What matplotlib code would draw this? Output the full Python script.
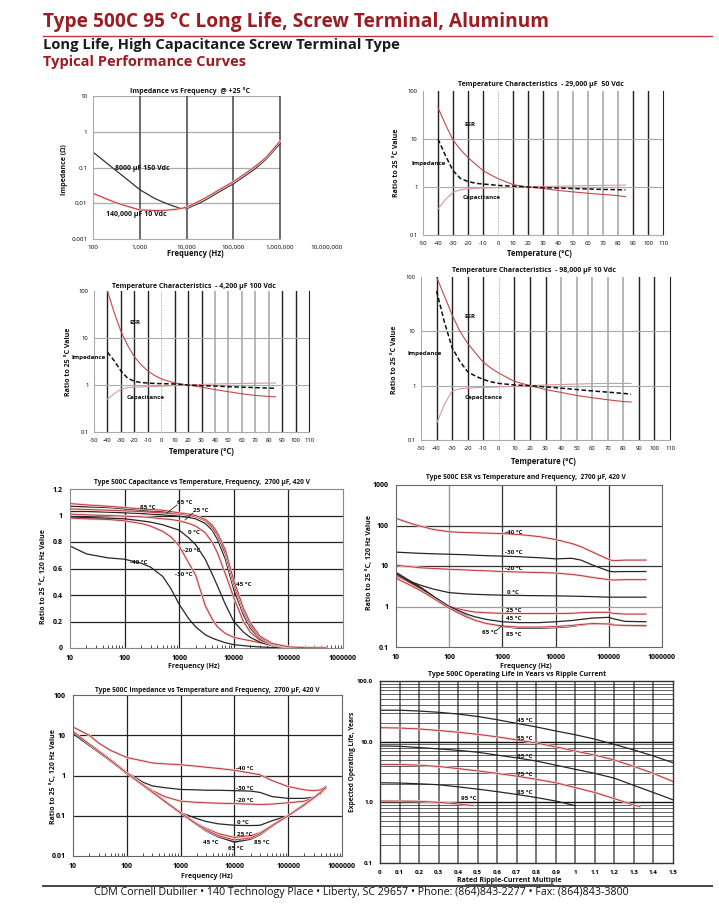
import matplotlib
matplotlib.use("Agg")
import matplotlib.pyplot as plt
from matplotlib.lines import Line2D
from matplotlib.ticker import NullLocator

plt.rcParams['font.family'] = ['Open Sans', 'DejaVu Sans']

# ---------------- data ----------------
# Impedance vs frequency @ +25 C
freq1 = [100, 200, 300, 500, 1000, 2000, 3000, 5000, 7000, 10000, 20000, 30000,
         50000, 100000, 200000, 300000, 500000, 1000000]
z_8000uF = [0.27, 0.13, 0.085, 0.05, 0.024, 0.014, 0.011, 0.0085, 0.0074, 0.007, 0.0105,
            0.014, 0.021, 0.035, 0.065, 0.095, 0.17, 0.47]
z_140000uF = [0.019, 0.013, 0.0105, 0.0085, 0.0065, 0.0063, 0.0063, 0.0066, 0.007, 0.0077,
              0.012, 0.016, 0.024, 0.04, 0.075, 0.11, 0.19, 0.55]
freq1_ticks = [100, 1000, 10000, 100000, 1000000]
freq1_labels = ['100', '1,000', '10,000', '100,000', '1,000,000']

# Temperature characteristics (ratio to 25 C value)
temps = [-40, -35, -30, -25, -20, -15, -10, -5, 0, 10, 20, 30, 40, 50, 60, 70, 80, 85]
esr_29k = [45, 20, 9.5, 6, 4.1, 3, 2.2, 1.8, 1.5, 1.12, 1.0, 0.93, 0.85, 0.79, 0.74, 0.7, 0.66, 0.63]
imp_29k = [10, 4.5, 2.2, 1.5, 1.3, 1.2, 1.15, 1.12, 1.08, 1.04, 1.0, 0.97, 0.95, 0.93, 0.91, 0.89, 0.88, 0.87]
cap_29k = [0.35, 0.55, 0.78, 0.88, 0.92, 0.94, 0.95, 0.96, 0.97, 0.98, 1.0, 1.02, 1.04, 1.05, 1.07, 1.08, 1.09, 1.1]

esr_4k2 = [100, 35, 14, 7, 4, 2.7, 2.0, 1.6, 1.35, 1.1, 1.0, 0.9, 0.8, 0.72, 0.65, 0.6, 0.57, 0.56]
imp_4k2 = [5, 3.3, 2.0, 1.4, 1.2, 1.13, 1.1, 1.08, 1.07, 1.05, 1.0, 0.97, 0.95, 0.92, 0.9, 0.88, 0.86, 0.85]
cap_4k2 = [0.5, 0.65, 0.82, 0.88, 0.9, 0.91, 0.92, 0.93, 0.94, 0.97, 1.0, 1.03, 1.05, 1.07, 1.08, 1.09, 1.1, 1.1]

esr_98k = [100, 45, 20, 10, 6, 4, 2.7, 2.1, 1.7, 1.2, 1.0, 0.85, 0.75, 0.66, 0.6, 0.55, 0.51, 0.5]
imp_98k = [55, 15, 5, 2.8, 1.8, 1.5, 1.3, 1.18, 1.1, 1.03, 1.0, 0.95, 0.9, 0.85, 0.8, 0.76, 0.72, 0.7]
cap_98k = [0.2, 0.45, 0.8, 0.88, 0.9, 0.92, 0.93, 0.94, 0.95, 0.97, 1.0, 1.03, 1.05, 1.07, 1.09, 1.1, 1.1, 1.1]

temp_ticks = list(range(-50, 111, 10))

# Capacitance vs temperature and frequency, 2700 uF 420 V
freq5 = [10, 20, 50, 100, 200, 300, 500, 700, 1000, 1500, 2000, 3000, 4000, 5000, 7000,
         10000, 15000, 20000, 30000, 50000, 100000, 200000, 500000]
cap_m40 = [0.77, 0.71, 0.68, 0.67, 0.64, 0.61, 0.54, 0.45, 0.33, 0.22, 0.16, 0.1, 0.075, 0.06,
           0.04, 0.025, 0.018, 0.013, 0.008, 0.004, 0.002, 0.001, 0.0]
cap_m30 = [0.98, 0.975, 0.97, 0.96, 0.94, 0.92, 0.88, 0.84, 0.77, 0.64, 0.55, 0.32, 0.22, 0.16,
           0.11, 0.08, 0.065, 0.055, 0.04, 0.02, 0.005, 0.002, 0.001]
cap_m20 = [0.99, 0.985, 0.98, 0.975, 0.96, 0.95, 0.93, 0.91, 0.89, 0.83, 0.78, 0.67, 0.56, 0.47,
           0.33, 0.2, 0.12, 0.08, 0.045, 0.02, 0.006, 0.002, 0.001]
cap_0 = [1.01, 1.005, 1.0, 0.995, 0.99, 0.985, 0.975, 0.97, 0.96, 0.94, 0.92, 0.87, 0.8, 0.72,
         0.56, 0.38, 0.2, 0.12, 0.06, 0.025, 0.007, 0.002, 0.001]
cap_25 = [1.03, 1.03, 1.025, 1.02, 1.015, 1.01, 1.005, 1.0, 0.995, 0.985, 0.975, 0.94, 0.89, 0.82,
          0.67, 0.44, 0.25, 0.15, 0.07, 0.027, 0.007, 0.002, 0.001]
cap_45 = [1.05, 1.045, 1.04, 1.035, 1.03, 1.025, 1.02, 1.015, 1.01, 1.0, 0.99, 0.96, 0.91, 0.85,
          0.71, 0.48, 0.28, 0.17, 0.08, 0.03, 0.008, 0.002, 0.001]
cap_65 = [1.07, 1.065, 1.06, 1.05, 1.04, 1.035, 1.03, 1.025, 1.02, 1.01, 1.0, 0.97, 0.92, 0.86,
          0.72, 0.49, 0.29, 0.18, 0.085, 0.032, 0.008, 0.002, 0.001]
cap_85 = [1.09, 1.08, 1.07, 1.06, 1.05, 1.045, 1.04, 1.03, 1.02, 1.01, 1.0, 0.97, 0.93, 0.87,
          0.74, 0.51, 0.3, 0.19, 0.09, 0.035, 0.009, 0.002, 0.001]

# ESR vs temperature and frequency
freq6 = [10, 20, 30, 50, 100, 200, 300, 500, 1000, 2000, 3000, 5000, 10000, 20000, 30000,
         50000, 100000, 120000, 200000, 500000]
esr_m40 = [150, 110, 95, 80, 70, 67, 66, 65, 63, 60, 57, 53, 45, 36, 30, 22, 14.5, 13.5, 14, 14]
esr_m30 = [22, 21, 20.5, 20, 19.5, 19, 18.5, 18, 17.5, 17, 16.5, 16, 15, 15.5, 14, 10.5, 7.5, 7.2, 7.3, 7.3]
esr_m20 = [10.5, 9.5, 9, 8.7, 8.3, 8, 7.8, 7.6, 7.3, 7.1, 7, 6.9, 6.7, 6.2, 5.8, 5.2, 4.6, 4.5, 4.6, 4.6]
esr_0 = [5.5, 4, 3.3, 2.7, 2.2, 2.05, 2.0, 1.95, 1.9, 1.88, 1.86, 1.85, 1.83, 1.8, 1.78, 1.75, 1.7, 1.7, 1.7, 1.7]
esr_25 = [6.0, 3.6, 2.6, 1.7, 1.0, 0.8, 0.73, 0.7, 0.68, 0.67, 0.67, 0.67, 0.67, 0.68, 0.7, 0.72, 0.72, 0.68, 0.65, 0.65]
esr_45 = [6.5, 3.8, 2.8, 1.8, 1.0, 0.67, 0.56, 0.48, 0.42, 0.4, 0.4, 0.4, 0.42, 0.45, 0.48, 0.52, 0.54, 0.5, 0.43, 0.42]
esr_65 = [7.0, 4.0, 2.9, 1.8, 0.95, 0.6, 0.47, 0.38, 0.32, 0.29, 0.29, 0.29, 0.3, 0.32, 0.35, 0.37, 0.38, 0.36, 0.34, 0.33]
esr_85 = [5.0, 3.2, 2.4, 1.6, 0.9, 0.57, 0.46, 0.38, 0.33, 0.31, 0.31, 0.31, 0.32, 0.34, 0.36, 0.38, 0.37, 0.35, 0.34, 0.34]

# Impedance vs temperature and frequency
freq7 = [10, 20, 30, 50, 100, 200, 300, 500, 1000, 2000, 3000, 5000, 10000, 20000, 30000,
         50000, 100000, 200000, 300000, 400000, 500000]
imp_m40 = [16, 10, 6.4, 4.2, 2.8, 2.3, 2.05, 1.95, 1.85, 1.7, 1.6, 1.5, 1.35, 1.15, 1.04, 0.75,
           0.53, 0.44, 0.42, 0.44, 0.53]
imp_m30 = [12, 6.2, 4.2, 2.5, 1.2, 0.68, 0.55, 0.5, 0.45, 0.44, 0.43, 0.43, 0.42, 0.41, 0.38, 0.3,
           0.27, 0.27, 0.29, 0.35, 0.5]
imp_m20 = [12, 6.0, 4.0, 2.4, 1.15, 0.6, 0.42, 0.3, 0.23, 0.215, 0.21, 0.205, 0.2, 0.195, 0.19,
           0.195, 0.21, 0.23, 0.28, 0.38, 0.48]
imp_0 = [11.5, 5.8, 3.9, 2.35, 1.15, 0.58, 0.39, 0.24, 0.12, 0.085, 0.072, 0.063, 0.058, 0.057,
         0.058, 0.075, 0.1, 0.18, 0.27, 0.38, 0.48]
imp_25 = [11.5, 5.8, 3.9, 2.35, 1.15, 0.58, 0.39, 0.24, 0.12, 0.064, 0.048, 0.036, 0.029, 0.032,
          0.038, 0.058, 0.1, 0.19, 0.27, 0.38, 0.48]
imp_45 = [11, 5.6, 3.8, 2.3, 1.12, 0.57, 0.38, 0.23, 0.115, 0.06, 0.042, 0.03, 0.023, 0.027,
          0.034, 0.055, 0.1, 0.19, 0.28, 0.38, 0.5]
imp_65 = [11.2, 5.7, 3.8, 2.3, 1.13, 0.57, 0.38, 0.23, 0.116, 0.06, 0.042, 0.03, 0.022, 0.026,
          0.034, 0.055, 0.1, 0.19, 0.28, 0.39, 0.5]
imp_85 = [12.5, 6, 4, 2.4, 1.15, 0.58, 0.39, 0.23, 0.118, 0.062, 0.044, 0.032, 0.025, 0.028,
          0.036, 0.057, 0.1, 0.19, 0.28, 0.38, 0.5]

# Operating life vs ripple current
ripple = [0, 0.1, 0.2, 0.3, 0.4, 0.5, 0.6, 0.7, 0.8, 0.9, 1.0, 1.1, 1.2, 1.3, 1.4, 1.5]
life_45 = [33, 33, 32, 30.5, 28.5, 26, 23, 20, 17.5, 15, 13, 11, 9, 7.3, 5.8, 4.5]
life_55 = [17, 16.8, 16.2, 15.3, 14.3, 13.2, 12, 10.7, 9.5, 8.2, 7.0, 6.0, 5.0, 3.9, 3.0, 2.2]
life_65 = [8.5, 8.4, 8.0, 7.6, 7.2, 6.7, 6.0, 5.4, 4.8, 4.1, 3.5, 3.0, 2.5, 1.9, 1.45, 1.1]
ripple_75 = [0, 0.1, 0.2, 0.3, 0.4, 0.5, 0.6, 0.7, 0.8, 0.9, 1.0, 1.1, 1.2, 1.3, 1.33]
life_75 = [4.2, 4.2, 4.1, 3.9, 3.6, 3.3, 3.0, 2.7, 2.4, 2.1, 1.75, 1.45, 1.15, 0.9, 0.85]
ripple_85 = [0, 0.1, 0.2, 0.3, 0.4, 0.5, 0.6, 0.7, 0.8, 0.9, 1.0]
life_85 = [2.1, 2.08, 2.02, 1.95, 1.8, 1.65, 1.5, 1.35, 1.2, 1.05, 0.88]
ripple_95 = [0, 0.1, 0.2, 0.3, 0.4, 0.48]
life_95 = [1.05, 1.05, 1.04, 1.0, 0.94, 0.88]

# ---------------- page layout helpers (pixel coordinates) ----------------
W, H = 719, 918
RED = '#9b1c22'
fig = plt.figure(figsize=(W / 100, H / 100), dpi=100)


def box(l, t, r, b):
    return fig.add_axes([l / W, 1 - b / H, (r - l) / W, (b - t) / H])


def label(x, y, s, size=5, ha='left', color='#111', weight='bold', **kw):
    fig.text(x / W, 1 - y / H, s, ha=ha, va='center', fontsize=size,
             color=color, fontweight=weight, **kw)


def hline(x0, x1, y, color, lw):
    fig.add_artist(Line2D([x0 / W, x1 / W], [1 - y / H, 1 - y / H], color=color, lw=lw))


def leader(x0, y0, x1, y1):
    fig.add_artist(Line2D([x0 / W, x1 / W], [1 - y0 / H, 1 - y1 / H], color='#222', lw=0.6))


def red_curve(ax, x, y):
    ax.plot(x, y, color='#f4cdcd', lw=1.7, solid_capstyle='round')
    ax.plot(x, y, color='#b3262b', lw=0.6)


def black_curve(ax, x, y):
    ax.plot(x, y, color='#262626', lw=0.9)


def frame(ax, color='#999', lw=0.8):
    for s in ax.spines.values():
        s.set_color(color)
        s.set_linewidth(lw)


# ---------------- header ----------------
label(43, 22, 'Type 500C 95 °C Long Life, Screw Terminal, Aluminum', size=13.8, color=RED)
hline(43, 712, 36, '#b23a3f', 1.0)
label(43, 45, 'Long Life, High Capacitance Screw Terminal Type', size=10.6, color='#1a1a1a')
label(43, 62, 'Typical Performance Curves', size=10.5, color=RED)

# ---------------- 1: impedance vs frequency ----------------
ax = box(93, 96, 327, 239)
ax.set_xscale('log')
ax.set_yscale('log')
ax.set_xlim(100, 1e7)
ax.set_ylim(0.001, 10)
for v in [0.01, 0.1, 1, 10]:
    ax.hlines(v, 100, 1e6, color='#aaaaaa', lw=0.9)
for f in [1000, 10000, 100000, 1000000]:
    ax.axvline(f, color='#444444', lw=1.1)
ax.plot(freq1, z_8000uF, color='#333333', lw=0.9)
red_curve(ax, freq1, z_140000uF)
ax.set_xticks(freq1_ticks + [1e7], freq1_labels + ['10,000,000'])
ax.set_yticks([0.001, 0.01, 0.1, 1, 10], ['0.001', '0.01', '0.1', '1', '10'])
ax.xaxis.set_minor_locator(NullLocator())
ax.yaxis.set_minor_locator(NullLocator())
ax.tick_params(length=0, labelsize=4.5, pad=4)
frame(ax, '#aaaaaa')
ax.spines['top'].set_visible(False)
ax.spines['right'].set_visible(False)
ax.spines['bottom'].set_bounds(100, 1e6)
label(190, 91, 'Impedance vs Frequency  @ +25 °C', size=5, ha='center')
label(195, 254, 'Frequency (Hz)', size=5.5, ha='center')
label(65, 170, 'Impedance (Ω)', size=5, ha='center', rotation=90)
label(115, 169, '8000 µF 150 Vdc', size=5)
label(106, 214, '140,000 µF 10 Vdc', size=5)


# ---------------- 2-4: temperature characteristics ----------------
def temp_panel(ax, esr, imp, cap):
    ax.set_yscale('log')
    ax.set_xlim(-50, 110)
    ax.set_ylim(0.1, 100)
    for t in range(-40, 101, 10):
        if t == 0:
            ax.axvline(t, color='#999999', lw=0.6, ls=(0, (1, 1)))
        elif 40 <= t <= 80:
            ax.axvline(t, color='#aaaaaa', lw=1.2)
        else:
            ax.axvline(t, color='#222222', lw=1.0)
    for v in [1, 10]:
        ax.axhline(v, color='#aaaaaa', lw=0.8)
    ax.plot(temps, esr, color='#c4474c', lw=0.8)
    ax.plot(temps, cap, color='#d9989b', lw=0.8)
    ax.plot(temps, imp, color='#111111', lw=1.1, ls=(0, (3, 1.6)))
    ax.set_xticks(temp_ticks, [str(t) for t in temp_ticks])
    ax.set_yticks([0.1, 1, 10, 100], ['0.1', '1', '10', '100'])
    ax.yaxis.set_minor_locator(NullLocator())
    ax.tick_params(length=0, labelsize=4.2, pad=4)
    frame(ax, '#aaaaaa')
    ax.spines['top'].set_visible(False)
    ax.spines['right'].set_color('#222222')


ax = box(423, 91, 663, 235)
temp_panel(ax, esr_29k, imp_29k, cap_29k)
label(541, 85, 'Temperature Characteristics  - 29,000 µF  50 Vdc', size=5, ha='center')
label(539, 254, 'Temperature (°C)', size=5.5, ha='center')
label(397, 163, 'Ratio to 25 °C Value', size=5, ha='center', rotation=90)
label(470, 125, 'ESR', size=4.5, ha='center')
label(412, 163, 'Impedance', size=4.5)
label(463, 198, 'Capacitance', size=4.5)

ax = box(94, 291, 309, 432)
temp_panel(ax, esr_4k2, imp_4k2, cap_4k2)
label(194, 286, 'Temperature Characteristics  - 4,200 µF 100 Vdc', size=5, ha='center')
label(201, 452, 'Temperature (°C)', size=5.5, ha='center')
label(68, 362, 'Ratio to 25 °C Value', size=5, ha='center', rotation=90)
label(135, 323, 'ESR', size=4.5, ha='center')
label(72, 358, 'Impedance', size=4.5)
label(127, 397, 'Capacitance', size=4.5)

ax = box(421, 277, 670, 440)
temp_panel(ax, esr_98k, imp_98k, cap_98k)
label(534, 271, 'Temperature Characteristics  - 98,000 µF 10 Vdc', size=5, ha='center')
label(543, 461, 'Temperature (°C)', size=5.5, ha='center')
label(395, 360, 'Ratio to 25 °C Value', size=5, ha='center', rotation=90)
label(470, 316, 'ESR', size=4.5, ha='center')
label(408, 354, 'Impedance', size=4.5)
label(465, 398, 'Capacitance', size=4.5)

# ---------------- 5: capacitance vs temperature & frequency ----------------
dec_ticks = [10, 100, 1000, 10000, 100000, 1000000]
dec_labels = ['10', '100', '1000', '10000', '100000', '1000000']

ax = box(70, 489, 343, 648)
ax.set_xscale('log')
ax.set_xlim(10, 1e6)
ax.set_ylim(0, 1.2)
for f in [100, 1000, 10000, 100000]:
    ax.axvline(f, color='#222222', lw=0.9)
for v in [0.2, 0.4, 0.6, 0.8, 1.0]:
    ax.axhline(v, color='#222222', lw=0.9)
black_curve(ax, freq5, cap_m40)
red_curve(ax, freq5, cap_m30)
black_curve(ax, freq5, cap_m20)
red_curve(ax, freq5, cap_0)
black_curve(ax, freq5, cap_25)
red_curve(ax, freq5, cap_45)
black_curve(ax, freq5, cap_65)
red_curve(ax, freq5, cap_85)
ax.set_xticks(dec_ticks, dec_labels)
ax.set_yticks([0, 0.2, 0.4, 0.6, 0.8, 1.0, 1.2], ['0', '0.2', '0.4', '0.6', '0.8', '1', '1.2'])
ax.tick_params(which='major', length=0, labelsize=5, pad=5)
ax.tick_params(which='minor', direction='in', length=2, width=0.5, top=False)
for t in ax.get_xticklabels() + ax.get_yticklabels():
    t.set_fontweight('bold')
frame(ax, '#888888')
label(202, 483, 'Type 500C Capacitance vs Temperature, Frequency,  2700 µF, 420 V', size=4.8, ha='center')
label(194, 667, 'Frequency (Hz)', size=5, ha='center')
label(43, 577, 'Ratio to 25 °C, 120 Hz Value', size=5, ha='center', rotation=90)
for x, y, s in [(140, 507, '85 °C'), (177, 503, '65 °C'), (193, 511, '25 °C'), (188, 533, '0 °C'),
                (183, 550, '-20 °C'), (130, 563, '-40 °C'), (175, 574, '-30 °C'), (236, 584, '45 °C')]:
    label(x, y, s, size=4.5)
leader(167, 513, 177, 505)
leader(185, 520, 193, 513)

# ---------------- 6: ESR vs temperature & frequency ----------------
ax = box(396, 485, 662, 647)
ax.set_xscale('log')
ax.set_yscale('log')
ax.set_xlim(10, 1e6)
ax.set_ylim(0.1, 1000)
ax.axvline(100, color='#999999', lw=1.0)
for f in [1000, 10000, 100000]:
    ax.axvline(f, color='#333333', lw=0.9)
ax.axhline(1, color='#999999', lw=0.9)
for v in [10, 100]:
    ax.axhline(v, color='#333333', lw=0.9)
red_curve(ax, freq6, esr_m40)
black_curve(ax, freq6, esr_m30)
red_curve(ax, freq6, esr_m20)
black_curve(ax, freq6, esr_0)
red_curve(ax, freq6, esr_25)
black_curve(ax, freq6, esr_45)
black_curve(ax, freq6, esr_65)
red_curve(ax, freq6, esr_85)
ax.set_xticks(dec_ticks, dec_labels)
ax.set_yticks([0.1, 1, 10, 100, 1000], ['0.1', '1', '10', '100', '1000'])
ax.xaxis.set_minor_locator(NullLocator())
ax.yaxis.set_minor_locator(NullLocator())
ax.tick_params(length=0, labelsize=5, pad=5)
for t in ax.get_xticklabels() + ax.get_yticklabels():
    t.set_fontweight('bold')
frame(ax, '#666666')
label(526, 477, 'Type 500C ESR vs Temperature and Frequency,  2700 µF, 420 V', size=4.8, ha='center')
label(526, 667, 'Frequency (Hz)', size=5, ha='center')
label(370, 563, 'Ratio to 25 °C, 120 Hz Value', size=5, ha='center', rotation=90)
for x, y, s in [(505, 532, '-40 °C'), (505, 553, '-30 °C'), (505, 569, '-20 °C'), (507, 593, '0 °C'),
                (506, 611, '25 °C'), (506, 619, '45 °C'), (482, 633, '65 °C'), (506, 634, '85 °C')]:
    label(x, y, s, size=4.5)
leader(497, 630, 503, 625)

# ---------------- 7: impedance vs temperature & frequency ----------------
ax = box(73, 695, 342, 856)
ax.set_xscale('log')
ax.set_yscale('log')
ax.set_xlim(10, 1e6)
ax.set_ylim(0.01, 100)
for f in [100, 1000, 10000, 100000]:
    ax.axvline(f, color='#222222', lw=0.9)
for v in [0.1, 1, 10]:
    ax.axhline(v, color='#222222', lw=0.9)
red_curve(ax, freq7, imp_m40)
black_curve(ax, freq7, imp_m30)
red_curve(ax, freq7, imp_m20)
black_curve(ax, freq7, imp_0)
red_curve(ax, freq7, imp_25)
black_curve(ax, freq7, imp_45)
black_curve(ax, freq7, imp_65)
red_curve(ax, freq7, imp_85)
ax.set_xticks(dec_ticks, dec_labels)
ax.set_yticks([0.01, 0.1, 1, 10, 100], ['0.01', '0.1', '1', '10', '100'])
ax.yaxis.set_minor_locator(NullLocator())
ax.tick_params(which='major', length=0, labelsize=5, pad=5)
ax.tick_params(which='minor', direction='in', length=2, width=0.5)
for t in ax.get_xticklabels() + ax.get_yticklabels():
    t.set_fontweight('bold')
frame(ax, '#666666')
label(207, 690, 'Type 500C Impedance vs Temperature and Frequency,  2700 µF, 420 V', size=4.8, ha='center')
label(207, 877, 'Frequency (Hz)', size=5, ha='center')
label(53, 777, 'Ratio to 25 °C, 120 Hz Value', size=5, ha='center', rotation=90)
for x, y, s in [(236, 768, '-40 °C'), (236, 788, '-30 °C'), (236, 801, '-20 °C'), (237, 823, '0 °C'),
                (237, 834, '25 °C'), (203, 842, '45 °C'), (228, 848, '65 °C'), (254, 842, '85 °C')]:
    label(x, y, s, size=4.5)

# ---------------- 8: operating life vs ripple current ----------------
ax = box(380, 681, 673, 863)
ax.set_yscale('log')
ax.set_xlim(0, 1.5)
ax.set_ylim(0.1, 100)
for i in range(1, 15):
    ax.axvline(i / 10, color='#555555', lw=1.1)
for dec in [0.1, 1, 10]:
    for m in range(2, 10):
        ax.axhline(dec * m, color='#222222', lw=0.5)
for v in [1, 10]:
    ax.axhline(v, color='#111111', lw=1.0)
black_curve(ax, ripple, life_45)
red_curve(ax, ripple, life_55)
black_curve(ax, ripple, life_65)
red_curve(ax, ripple_75, life_75)
black_curve(ax, ripple_85, life_85)
red_curve(ax, ripple_95, life_95)
ax.set_xticks([i / 10 for i in range(16)],
              ['0', '0.1', '0.2', '0.3', '0.4', '0.5', '0.6', '0.7', '0.8', '0.9',
               '1', '1.1', '1.2', '1.3', '1.4', '1.5'])
ax.set_yticks([0.1, 1, 10, 100], ['0.1', '1.0', '10.0', '100.0'])
ax.yaxis.set_minor_locator(NullLocator())
ax.tick_params(length=0, labelsize=4.5, pad=5)
for t in ax.get_xticklabels() + ax.get_yticklabels():
    t.set_fontweight('bold')
frame(ax, '#333333', 1.0)
label(517, 675, 'Type 500C Operating Life in Years vs Ripple Current', size=5, ha='center')
label(509, 880, 'Rated Ripple-Current Multiple', size=5, ha='center')
hline(465, 553, 884, '#222222', 0.5)
label(353, 762, 'Expected Operating Life, Years', size=4.8, ha='center', rotation=90)
for x, y, s in [(517, 721, '45 °C'), (517, 738, '55 °C'), (517, 757, '65 °C'),
                (517, 775, '75 °C'), (517, 792, '85 °C'), (461, 799, '95 °C')]:
    label(x, y, s, size=4.5)

# ---------------- footer ----------------
hline(43, 712, 886, '#444444', 1.4)
fig.text(361 / W, 1 - 893 / H,
         'CDM Cornell Dubilier • 140 Technology Place • Liberty, SC 29657 • Phone: (864)843-2277 • Fax: (864)843-3800',
         ha='center', va='center', fontsize=7.7, color='#111111',
         family=['Liberation Sans Narrow', 'Open Sans', 'DejaVu Sans'])

fig.savefig('out.png', dpi=100, facecolor='white')
